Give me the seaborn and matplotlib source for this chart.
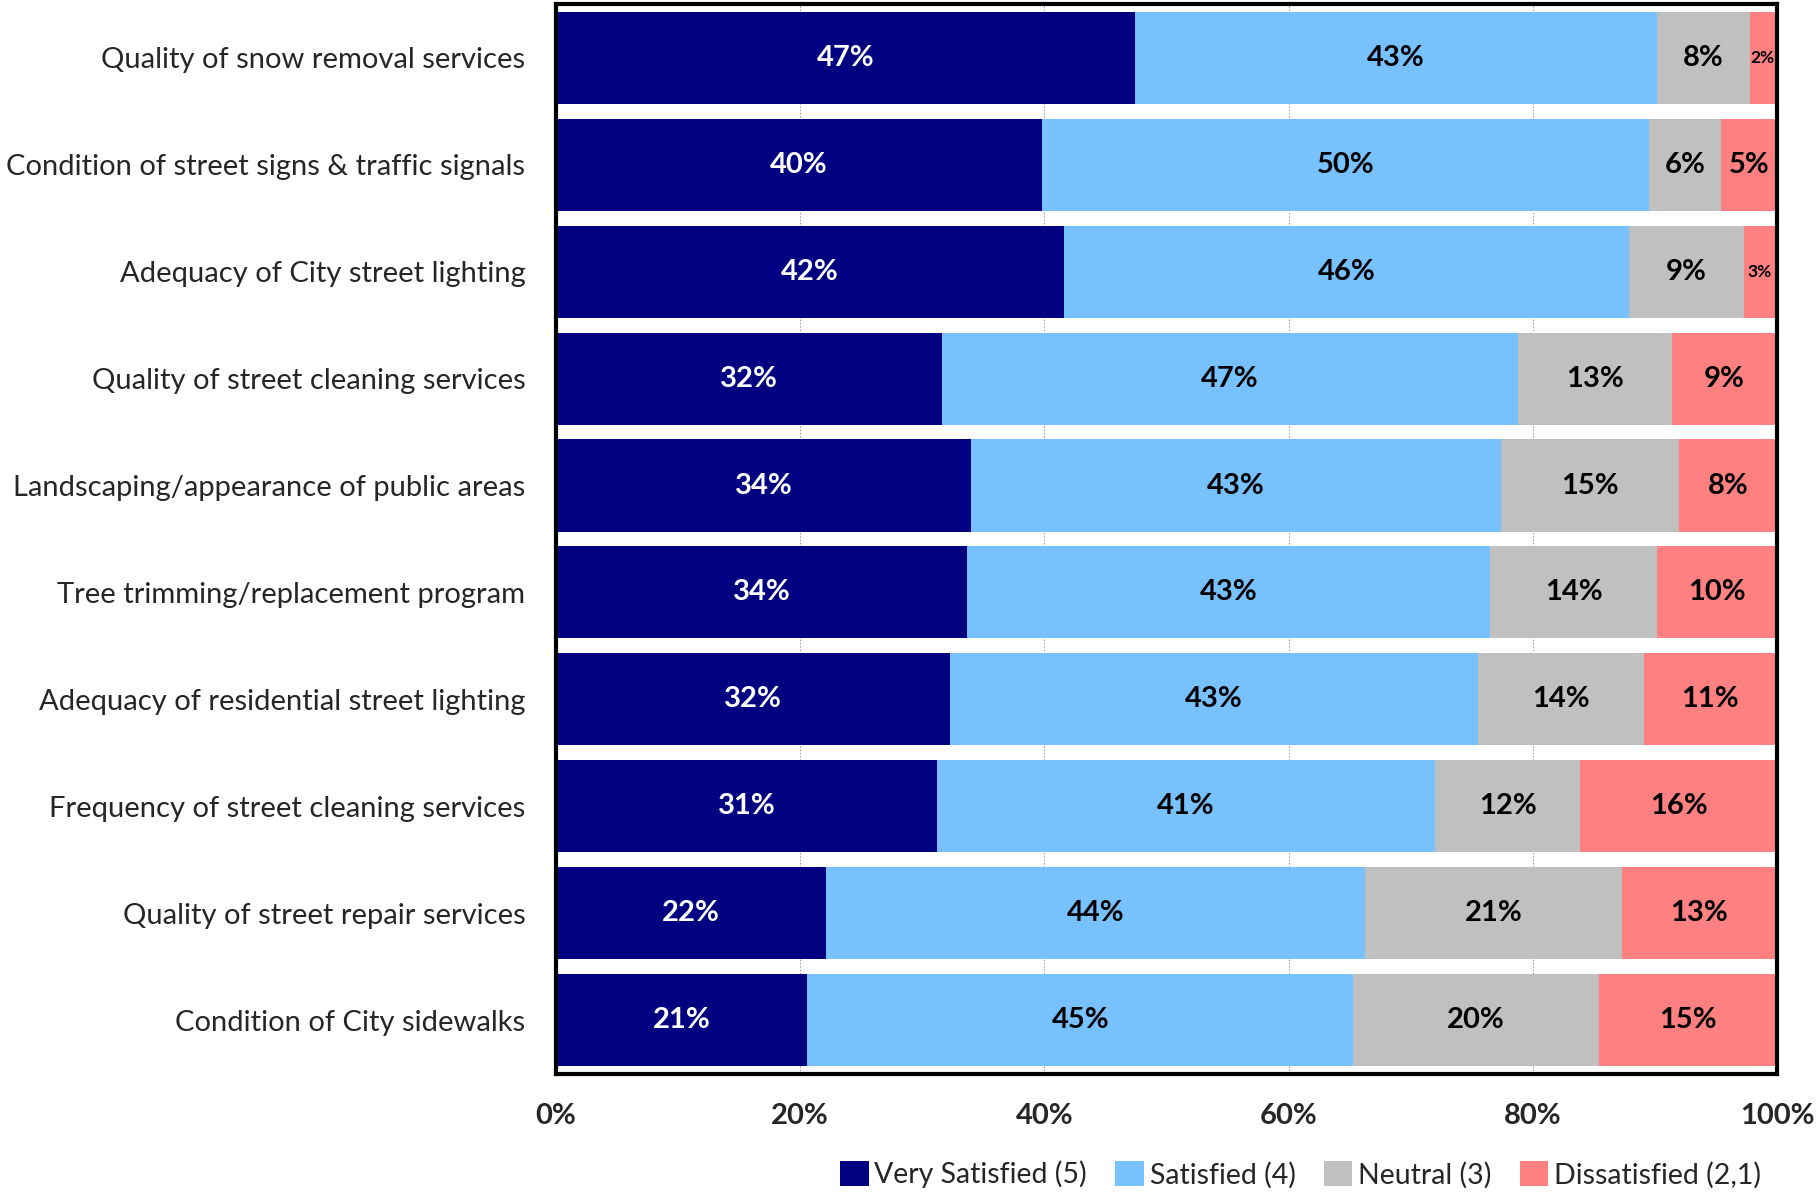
import matplotlib
matplotlib.use("Agg")
import matplotlib.pyplot as plt
import seaborn as sns
import pandas as pd
import numpy as np
from matplotlib.patches import Patch

# Survey items (top to bottom)
items = [
    "Quality of snow removal services",
    "Condition of street signs & traffic signals",
    "Adequacy of City street lighting",
    "Quality of street cleaning services",
    "Landscaping/appearance of public areas",
    "Tree trimming/replacement program",
    "Adequacy of residential street lighting",
    "Frequency of street cleaning services",
    "Quality of street repair services",
    "Condition of City sidewalks",
]

# Percent of respondents in each satisfaction group
very_satisfied = [47.4, 39.8, 41.6, 31.6, 34.0, 33.7, 32.3, 31.2, 22.1, 20.6]
satisfied      = [42.8, 49.7, 46.3, 47.2, 43.4, 42.8, 43.2, 40.8, 44.2, 44.7]
neutral        = [7.6, 5.9, 9.4, 12.6, 14.6, 13.7, 13.6, 11.9, 21.0, 20.1]
dissatisfied   = [2.2, 4.6, 2.7, 8.6, 8.0, 9.8, 10.9, 16.1, 12.7, 14.6]

groups = ["Very Satisfied (5)", "Satisfied (4)", "Neutral (3)", "Dissatisfied (2,1)"]
colors = ["#000080", "#78C1FF", "#C0C0C0", "#FF8080"]
text_colors = ["white", "black", "black", "black"]
tick_labels = ["0%", "20%", "40%", "60%", "80%", "100%"]

sns.set_style("white")
plt.rcParams["font.family"] = ["Lato", "DejaVu Sans"]

df = pd.DataFrame({
    "item": items,
    groups[0]: very_satisfied,
    groups[1]: satisfied,
    groups[2]: neutral,
    groups[3]: dissatisfied,
})
cum = df[groups].cumsum(axis=1)
starts = cum - df[groups]

fig = plt.figure(figsize=(18.18, 11.93), dpi=100)
ax = fig.add_axes([0.3058, 0.0998, 0.6716, 0.8968])

# Stacked bars: draw cumulative totals from the outermost segment inward
for g, c in reversed(list(zip(groups, colors))):
    sns.barplot(data=cum.assign(item=items), x=g, y="item", orient="h",
                color=c, width=0.86, saturation=1, edgecolor="none",
                linewidth=0, ax=ax, zorder=2)

# Segment labels
for i in range(len(items)):
    for g, tc in zip(groups, text_colors):
        v = df.loc[i, g]
        xc = starts.loc[i, g] + v / 2
        small = v < 4
        ax.text(xc - (0.1 if small else 0), i, f"{v:.0f}%", ha="center", va="center",
                color=tc, fontweight="bold",
                fontsize=12.5 if small else 21, zorder=3)

ax.set_xlim(0, 100)
ax.set_ylim(len(items) - 0.5, -0.5)
ax.set_xticks([0, 20, 40, 60, 80, 100])
ax.set_xticklabels(tick_labels, fontsize=21, fontweight="bold")
ax.tick_params(axis="x", direction="in", length=6, width=0.8, color="#404040", pad=21)
ax.tick_params(axis="y", length=0, labelsize=21, pad=22)
ax.set_xlabel("")
ax.set_ylabel("")
ax.xaxis.grid(True, linestyle=(0, (2, 2)), color="#909090", linewidth=0.6, zorder=0)
ax.set_axisbelow(True)
for s in ax.spines.values():
    s.set_visible(True)
    s.set_color("black")
    s.set_linewidth(3)

handles = [Patch(facecolor=c, edgecolor="none", label=g) for g, c in zip(groups, colors)]
fig.legend(handles=handles, loc="center right", bbox_to_anchor=(0.975, 0.0155),
           ncol=4, frameon=False, fontsize=20.5, handlelength=1.0, handleheight=1.0,
           handletextpad=0.2, columnspacing=1.0, borderaxespad=0)

fig.savefig("out.png", dpi=100)
